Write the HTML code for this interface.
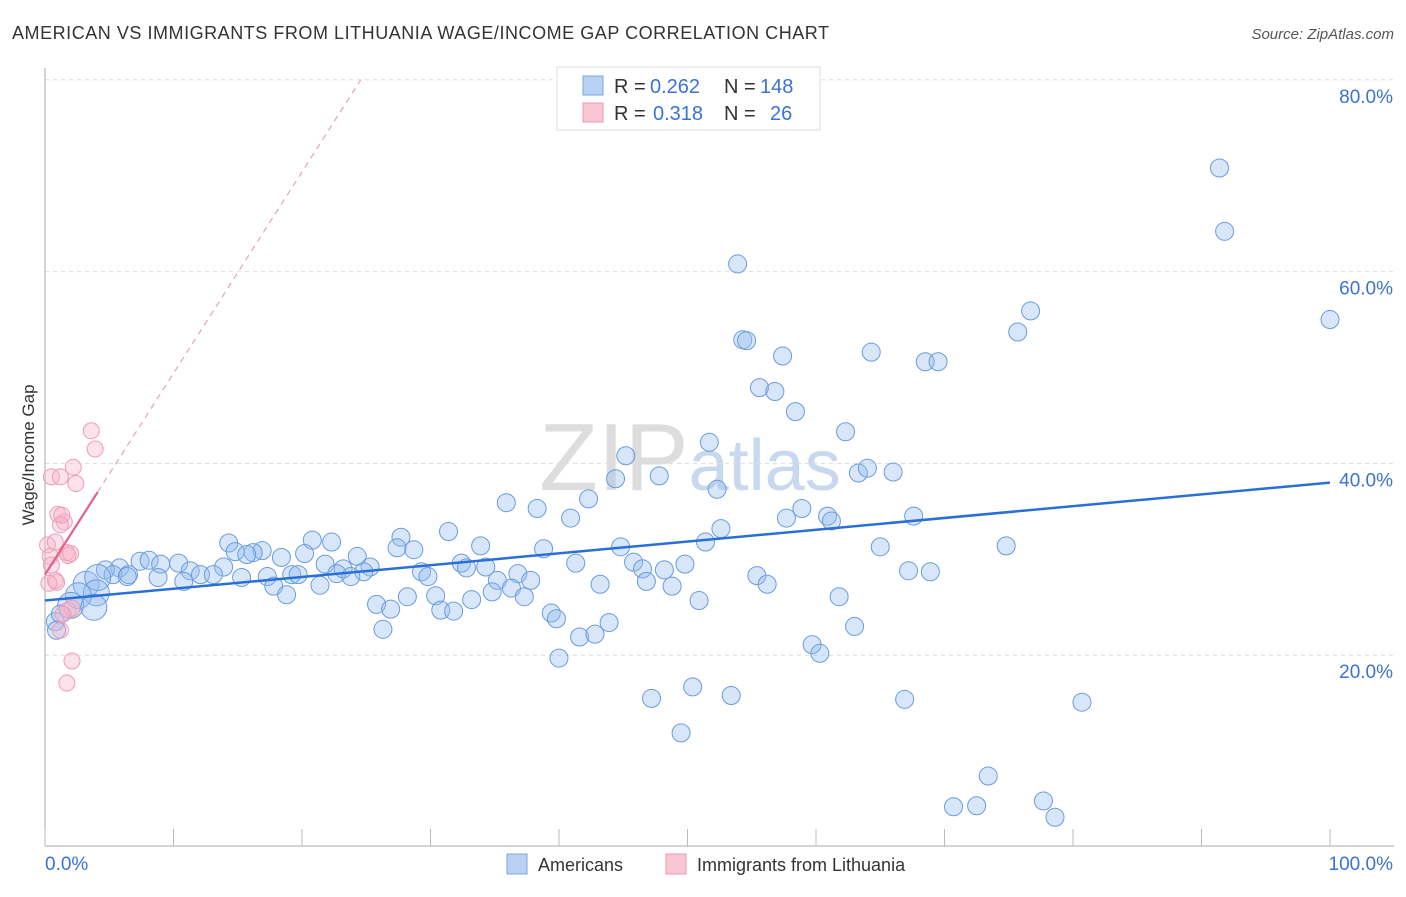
<!DOCTYPE html>
<html><head><meta charset="utf-8"><style>
body{margin:0;background:#fff;font-family:"Liberation Sans",sans-serif}
svg text{font-family:"Liberation Sans",sans-serif}
</style></head><body>
<svg id="chart" width="1406" height="892" viewBox="0 0 1406 892" xmlns="http://www.w3.org/2000/svg">
<text x="12" y="39" font-size="18" fill="#333" textLength="817" lengthAdjust="spacing">AMERICAN VS IMMIGRANTS FROM LITHUANIA WAGE/INCOME GAP CORRELATION CHART</text>
<text x="1394" y="39" font-size="15" fill="#555" font-style="italic" text-anchor="end">Source: ZipAtlas.com</text>
<text x="690" y="490" font-size="96" fill="#ddd" text-anchor="middle" font-family="Liberation Serif">ZIP<tspan fill="#c8d8ee" font-family="Liberation Sans" font-size="72">atlas</tspan></text>
<g id="grid"></g>
<g id="axes"></g>
<g id="marks"></g>
<g id="trends"></g>
<text transform="translate(34,455) rotate(-90)" font-size="17" fill="#333" text-anchor="middle">Wage/Income Gap</text>
<g font-size="20">
<rect x="557" y="67" width="263" height="63" fill="#fff" stroke="#ddd"/>
<rect x="583" y="76" width="20" height="19" fill="#b9d2f3" stroke="#7aa5e0"/>
<rect x="583" y="103" width="20" height="19" fill="#f9c6d4" stroke="#ec9ab2"/>
<text x="614" y="93" fill="#333">R =</text><text x="650" y="93" fill="#3b73d1">0.262</text>
<text x="724" y="93" fill="#333">N =</text><text x="760" y="93" fill="#3b73d1">148</text>
<text x="614" y="120" fill="#333">R =</text><text x="653" y="120" fill="#3b73d1">0.318</text>
<text x="724" y="120" fill="#333">N =</text><text x="770" y="120" fill="#3b73d1">26</text>
</g>
<g>
<rect x="507" y="854" width="20" height="20" fill="#b9d2f3" stroke="#7aa5e0"/>
<text x="538" y="871" font-size="18" fill="#333">Americans</text>
<rect x="666" y="854" width="20" height="20" fill="#f9c6d4" stroke="#ec9ab2"/>
<text x="697" y="871" font-size="18" fill="#333">Immigrants from Lithuania</text>
</g>
</svg>
<script>
const yTicks=[20,40,60,80];
const yTickLabels=["20.0%","40.0%","60.0%","80.0%"];
const xTickVals=[0,10,20,30,40,50,60,70,80,90,100];
const blueX=[91.4,91.8,53.9,100,76.7,75.7,54.3,54.6,57.4,64.3,68.5,69.5,55.6,56.8,58.4,62.3,51.7,45.2,44.4,47.8,63.3,64.0,66.0,52.3,42.3,35.9,38.3,40.9,58.9,57.7,60.9,61.2,67.6,52.6,31.4,27.7,51.4,20.8,22.3,14.3,27.4,33.9,44.8,65.0,74.8,28.7,38.8,14.8,16.9,16.2,20.2,15.7,24.3,18.4,7.4,8.1,9.0,10.4,5.8,4.7,21.8,32.4,41.3,45.8,49.8,34.3,32.8,23.2,25.3,13.9,11.3,46.5,48.2,67.2,68.9,5.3,6.5,12.1,13.1,22.7,24.8,29.3,6.4,8.8,19.2,19.7,23.8,36.8,29.8,15.3,17.3,35.2,37.8,55.4,46.8,43.2,56.2,10.8,3.2,4.1,17.8,21.4,48.8,36.3,34.8,4.0,18.8,28.2,30.4,37.3,61.8,33.2,50.9,25.8,2.6,2.0,26.9,30.8,31.8,39.4,3.8,39.8,43.9,63.0,41.6,42.8,26.3,0.8,1.2,0.9,59.7,60.3,40.0,47.2,50.4,53.4,66.9,80.7,49.5,73.4,70.7,72.5,77.7,78.6];
const blueY=[70.8,64.2,60.8,55.0,55.9,53.7,52.9,52.8,51.2,51.6,50.6,50.6,47.9,47.5,45.4,43.3,42.2,40.8,38.4,38.7,39.0,39.5,39.1,37.3,36.3,35.9,35.3,34.3,35.3,34.3,34.5,34.0,34.5,33.2,32.9,32.3,31.8,32.0,31.8,31.7,31.2,31.4,31.3,31.3,31.4,31.0,31.1,30.8,30.9,30.7,30.6,30.5,30.3,30.2,29.8,29.9,29.5,29.6,29.1,28.9,29.5,29.6,29.6,29.7,29.5,29.2,29.1,29.0,29.2,29.2,28.8,29.0,28.9,28.8,28.7,28.4,28.4,28.4,28.4,28.5,28.7,28.7,28.2,28.1,28.4,28.4,28.2,28.5,28.2,28.1,28.2,27.8,27.8,28.3,27.7,27.4,27.4,27.7,27.4,28.1,27.2,27.3,27.2,27.0,26.6,26.5,26.3,26.1,26.2,26.1,26.1,25.8,25.7,25.3,26.2,25.2,24.8,24.7,24.6,24.4,25.0,23.8,23.4,23.0,21.9,22.2,22.7,23.5,24.3,22.6,21.1,20.2,19.7,15.5,16.7,15.8,15.4,15.1,11.9,7.4,4.2,4.3,4.8,3.1];
const blueSize=blueX.map((x,i)=>x<4.5&&blueY[i]>24.8&&blueY[i]<28.2?2:1);
const pinkX=[3.6,3.9,2.2,0.5,1.2,2.4,1.0,1.5,1.3,0.2,0.8,1.7,1.8,0.4,0.5,0.8,0.9,1.8,2.1,1.4,1.2,2.1,1.7,1.2,2.0,0.3];
const pinkY=[43.4,41.5,39.6,38.6,38.6,37.9,34.7,33.9,34.6,31.5,31.8,30.7,30.4,30.3,29.4,27.8,27.6,24.7,24.9,24.3,22.6,19.4,17.1,33.6,30.6,27.5];
const blueTrend=[25.7,0.123];
const pinkTrend=[28.4,2.1];
const X=v=>45+v*12.85, Y=v=>847-v*9.59;
const NS="http://www.w3.org/2000/svg";
function mk(p,tag,a){const e=document.createElementNS(NS,tag);for(const k in a)e.setAttribute(k,a[k]);p.appendChild(e);return e;}
const grid=document.getElementById('grid'),axes=document.getElementById('axes'),marks=document.getElementById('marks'),trends=document.getElementById('trends');
yTicks.forEach((t,i)=>{
 const l=mk(grid,'line',{x1:45,x2:1394,y1:Y(t),y2:Y(t),stroke:'#ddd','stroke-dasharray':'4,4'});
 
 
 const tx=mk(axes,'text',{x:1393,y:Y(t)+23,'font-size':19,fill:'#3b73d1','text-anchor':'end'});tx.textContent=yTickLabels[i];
 
 
});
mk(axes,'line',{x1:45,x2:45,y1:68,y2:846,stroke:'#aaa'});
mk(axes,'line',{x1:45,x2:1394,y1:846,y2:846,stroke:'#aaa'});
xTickVals.forEach(t=>{const l=mk(axes,'line',{x1:X(t),x2:X(t),y1:829,y2:846,stroke:'#bbb'});
 
 });
let a=mk(axes,'text',{x:45,y:870,'font-size':19,fill:'#3b73d1'});a.textContent='0.0%';


a=mk(axes,'text',{x:1393,y:870,'font-size':19,fill:'#3b73d1','text-anchor':'end'});a.textContent='100.0%';


blueX.forEach((x,i)=>{const c=mk(marks,'circle',{cx:X(x),cy:Y(blueY[i]),r:blueSize[i]>1?13:9,fill:'rgba(150,190,240,0.38)',stroke:'#6a9be0','stroke-width':1});
 
 });
pinkX.forEach((x,i)=>{const c=mk(marks,'circle',{cx:X(x),cy:Y(pinkY[i]),r:8,fill:'rgba(246,180,200,0.38)',stroke:'#ee9cb5','stroke-width':1});
 
 });
let t=mk(trends,'line',{x1:X(0),y1:Y(blueTrend[0]),x2:X(100),y2:Y(blueTrend[0]+blueTrend[1]*100),stroke:'#2a6fd8','stroke-width':2.5});


t=mk(trends,'line',{x1:X(0),y1:Y(pinkTrend[0]),x2:X(4.1),y2:Y(pinkTrend[0]+pinkTrend[1]*4.1),stroke:'#e5608a','stroke-width':2.2});


const xe=(80-pinkTrend[0])/pinkTrend[1];
t=mk(trends,'line',{x1:X(4.1),y1:Y(pinkTrend[0]+pinkTrend[1]*4.1),x2:X(xe),y2:Y(80),stroke:'#e9a0b6','stroke-width':1.2,'stroke-dasharray':'6,5'});


</script>
</body></html>
